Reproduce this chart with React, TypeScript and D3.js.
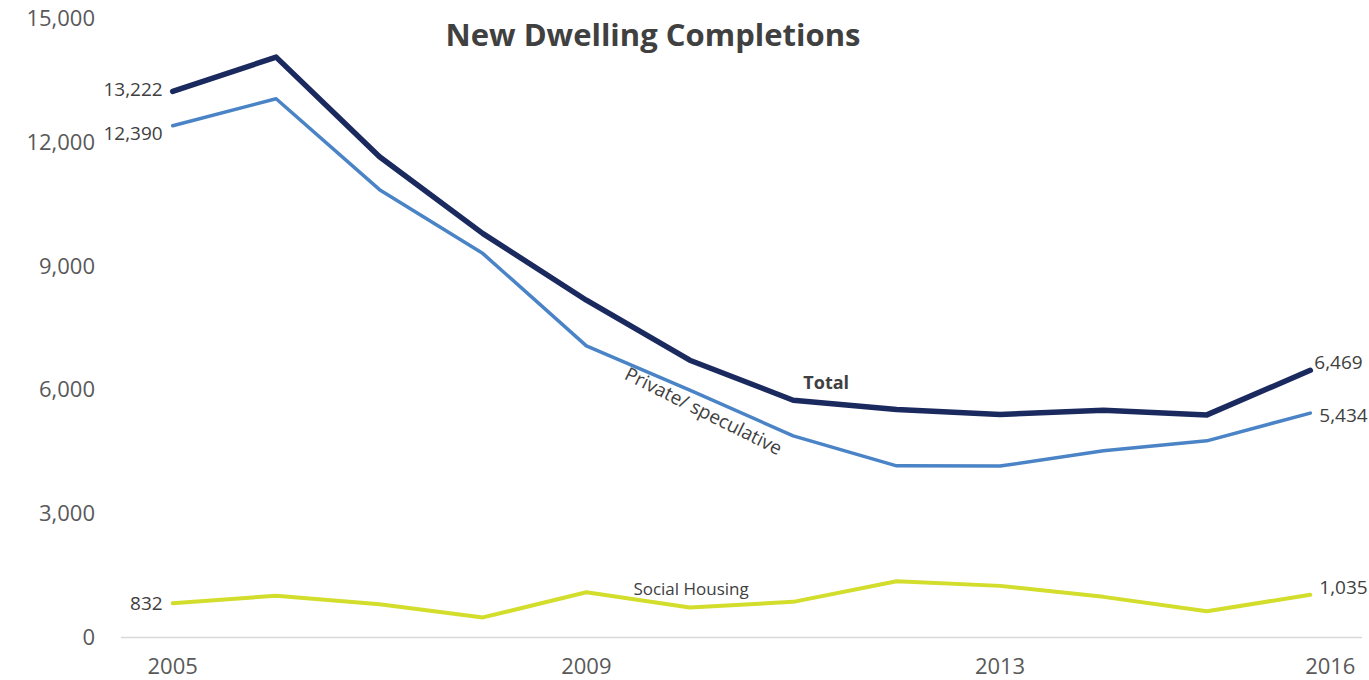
import { useEffect, useRef } from "react";
import * as d3 from "d3";

const years = ["2005", "2006", "2007", "2008", "2009", "2010", "2011", "2012", "2013", "2014", "2015", "2016"];
const total = [13222, 14053, 11640, 9780, 8166, 6714, 5746, 5521, 5400, 5504, 5390, 6469];
const privateSpec = [12390, 13046, 10844, 9296, 7060, 5988, 4883, 4157, 4150, 4520, 4762, 5434];
const social = [832, 1010, 805, 486, 1095, 726, 863, 1364, 1250, 984, 635, 1035];
const yTicks = [0, 3000, 6000, 9000, 12000, 15000];
const xTickLabels = ["2005", "2009", "2013", "2016"];

const FONT = "'Open Sans', 'Noto Sans', sans-serif";

const App = () => {
  const chartRef = useRef(null);

  useEffect(() => {
    const width = 1369;
    const height = 680;

    const svg = d3
      .select(chartRef.current)
      .append("svg")
      .attr("width", width)
      .attr("height", height)
      .style("position", "absolute")
      .style("left", "0px")
      .style("top", "0px")
      .style("font-family", FONT);

    const x = d3.scalePoint<string>().domain(years).range([121, 1362]).padding(0.5);
    const y = d3.scaleLinear().domain([0, 15000]).range([637.5, 18]);

    // y tick labels (no gridlines)
    svg
      .append("g")
      .selectAll("text")
      .data(yTicks)
      .join("text")
      .attr("x", 95)
      .attr("y", (d) => y(d))
      .attr("dy", "0.35em")
      .attr("text-anchor", "end")
      .attr("fill", "#595959")
      .attr("font-size", 22)
      .text((d) => d3.format(",")(d));

    // x axis line
    svg
      .append("line")
      .attr("x1", 121)
      .attr("x2", 1362)
      .attr("y1", y(0))
      .attr("y2", y(0))
      .attr("stroke", "#d9d9d9")
      .attr("stroke-width", 1.5);

    svg
      .append("g")
      .selectAll("text")
      .data(xTickLabels)
      .join("text")
      .attr("x", (d) => x(d)! + (d === "2016" ? 20 : 0))
      .attr("y", 666)
      .attr("dy", "0.35em")
      .attr("text-anchor", "middle")
      .attr("fill", "#595959")
      .attr("font-size", 22)
      .text((d) => d);

    const line = d3
      .line<number>()
      .x((_, i) => x(years[i])!)
      .y((d) => y(d));

    const series = [
      { values: social, color: "#d2dd2c", w: 4 },
      { values: privateSpec, color: "#4a84c6", w: 3.5 },
      { values: total, color: "#1b2a5e", w: 5.5 },
    ];

    series.forEach((s) => {
      svg
        .append("path")
        .datum(s.values)
        .attr("d", line)
        .attr("fill", "none")
        .attr("stroke", s.color)
        .attr("stroke-width", s.w)
        .attr("stroke-linejoin", "round")
        .attr("stroke-linecap", "round");
    });

    const last = years.length - 1;
    const endLabels = [
      { v: total[0], i: 0, dy: -2, dx: -10 },
      { v: privateSpec[0], i: 0, dy: 8, dx: -10 },
      { v: social[0], i: 0, dy: 0, dx: -10 },
      { v: total[last], i: last, dy: -8, dx: 4 },
      { v: privateSpec[last], i: last, dy: 2, dx: 9 },
      { v: social[last], i: last, dy: -7, dx: 9 },
    ];

    svg
      .append("g")
      .selectAll("text")
      .data(endLabels)
      .join("text")
      .attr("x", (d) => x(years[d.i])! + d.dx)
      .attr("y", (d) => y(d.v) + d.dy)
      .attr("dy", "0.35em")
      .attr("text-anchor", (d) => (d.i === 0 ? "end" : "start"))
      .attr("fill", "#404040")
      .attr("font-size", 19)
      .text((d) => d3.format(",")(d.v));

    // series name labels
    svg
      .append("text")
      .attr("x", x("2011")! + 33)
      .attr("y", y(total[6]) - 17)
      .attr("dy", "0.35em")
      .attr("text-anchor", "middle")
      .attr("fill", "#404040")
      .attr("font-size", 18)
      .attr("font-weight", 700)
      .text("Total");

    const px = (x("2010")! + x("2011")!) / 2 - 38;
    const py = y((privateSpec[5] + privateSpec[6]) / 2) - 2;
    svg
      .append("text")
      .attr("transform", `translate(${px},${py}) rotate(26.5)`)
      .attr("text-anchor", "middle")
      .attr("dy", "0.35em")
      .attr("fill", "#404040")
      .attr("font-size", 19)
      .text("Private/ speculative");

    svg
      .append("text")
      .attr("x", (x("2009")! + x("2010")!) / 2 + 53)
      .attr("y", y(social[4]) - 3)
      .attr("dy", "0.35em")
      .attr("text-anchor", "middle")
      .attr("fill", "#404040")
      .attr("font-size", 17)
      .text("Social Housing");

    svg
      .append("text")
      .attr("x", 653)
      .attr("y", 35)
      .attr("dy", "0.35em")
      .attr("text-anchor", "middle")
      .attr("fill", "#404040")
      .attr("font-size", 31)
      .attr("font-weight", 700)
      .text("New Dwelling Completions");

    return () => {
      d3.select(chartRef.current).selectAll("*").remove();
    };
  }, []);

  return <div ref={chartRef}></div>;
};

export default App;
